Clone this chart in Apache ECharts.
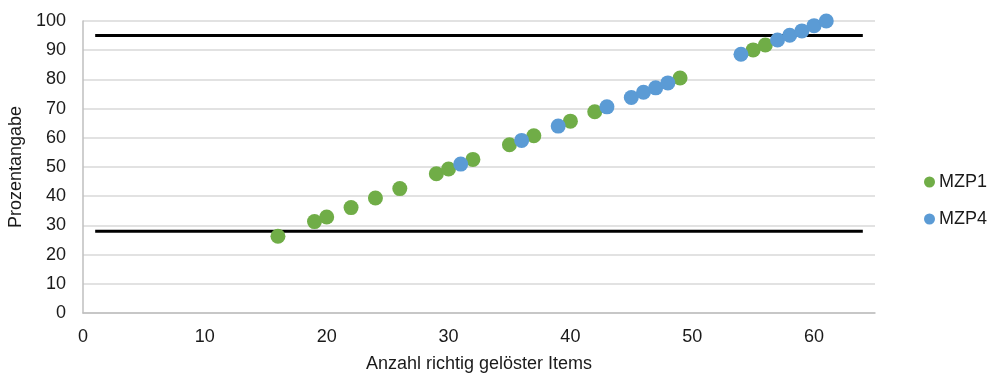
<!DOCTYPE html>
<html>
<head>
<meta charset="utf-8">
<script src="https://cdn.jsdelivr.net/npm/echarts@6/dist/echarts.min.js"></script>
<style>html,body{margin:0;padding:0;background:#fff;}#c{width:989px;height:374px;}</style>
</head>
<body>
<div id="c"></div>
<script>
// MZP1 (green)
var mzp1X = [16, 19, 20, 22, 24, 26, 29, 30, 32, 35, 37, 40, 42, 49, 55, 56];
var mzp1Y = [26.3, 31.3, 32.9, 36.1, 39.4, 42.6, 47.7, 49.3, 52.6, 57.6, 60.7, 65.7, 68.9, 80.5, 90.1, 91.8];
// MZP4 (blue)
var mzp4X = [31, 36, 39, 43, 45, 46, 47, 48, 54, 57, 58, 59, 60, 61];
var mzp4Y = [51.0, 59.1, 64.0, 70.6, 73.8, 75.6, 77.1, 78.8, 88.6, 93.5, 95.1, 96.6, 98.4, 100];
// reference lines
var upperLine = 95;
var lowerLine = 28;
var lineFromX = 1;
var lineToX = 64;

function pairs(xs, ys) { return xs.map(function (x, i) { return [x, ys[i]]; }); }

var font = 'Liberation Sans, Arial, sans-serif';
var textColor = '#1a1a1a';
var chart = echarts.init(document.getElementById('c'));
chart.setOption({
  animation: false,
  backgroundColor: '#fff',
  grid: { left: 83, right: 114, top: 21, bottom: 61, containLabel: false, outerBoundsMode: 'none' },
  legend: {
    orient: 'vertical', left: 924, top: 173, itemGap: 19, padding: 0,
    icon: 'circle', itemWidth: 11, itemHeight: 11,
    textStyle: { fontFamily: font, fontSize: 18, color: textColor, padding: [0, 0, 0, -1] },
    data: ['MZP1', 'MZP4']
  },
  xAxis: {
    type: 'value', min: 0, max: 65, interval: 10,
    name: 'Anzahl richtig gelöster Items', nameLocation: 'middle', nameGap: 42,
    nameTextStyle: { fontFamily: font, fontSize: 18, color: textColor },
    axisLine: { show: true, lineStyle: { color: '#bfbfbf', width: 1.5 } },
    axisTick: { show: false },
    splitLine: { show: false },
    axisLabel: { fontFamily: font, fontSize: 18, color: textColor, margin: 15,
      formatter: function (v) { return v % 10 === 0 ? v : ''; } }
  },
  yAxis: {
    type: 'value', min: 0, max: 100, interval: 10,
    name: 'Prozentangabe', nameLocation: 'middle', nameGap: 56,
    nameTextStyle: { fontFamily: font, fontSize: 18, color: textColor },
    axisLine: { show: true, lineStyle: { color: '#bfbfbf', width: 1.5 } },
    axisTick: { show: false },
    splitLine: { show: true, lineStyle: { color: '#d9d9d9', width: 1.5 } },
    axisLabel: { fontFamily: font, fontSize: 18, color: textColor, margin: 17 }
  },
  series: [
    {
      name: 'upper', type: 'line', data: [[lineFromX, upperLine], [lineToX, upperLine]],
      symbol: 'none', lineStyle: { color: '#000', width: 3 }, z: 1, silent: true
    },
    {
      name: 'lower', type: 'line', data: [[lineFromX, lowerLine], [lineToX, lowerLine]],
      symbol: 'none', lineStyle: { color: '#000', width: 3 }, z: 1, silent: true
    },
    {
      name: 'MZP1', type: 'scatter', data: pairs(mzp1X, mzp1Y), symbolSize: 15,
      itemStyle: { color: '#70ad47', opacity: 1 }, z: 3
    },
    {
      name: 'MZP4', type: 'scatter', data: pairs(mzp4X, mzp4Y), symbolSize: 15,
      itemStyle: { color: '#5b9bd5', opacity: 1 }, z: 4
    }
  ]
});
</script>
</body>
</html>
